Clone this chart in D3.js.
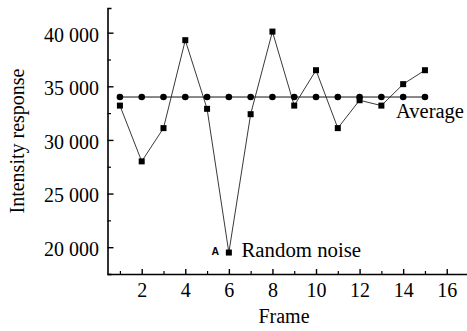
<!DOCTYPE html>
<html>
<head>
<meta charset="utf-8">
<script src="https://cdn.jsdelivr.net/npm/d3@7"></script>
<style>
  body { margin: 0; background: #fff; }
  text { fill: #000; }
</style>
</head>
<body>
<div id="chart"></div>
<script>
var frames = [1, 2, 3, 4, 5, 6, 7, 8, 9, 10, 11, 12, 13, 14, 15];
var noise = [33200, 28000, 31100, 39300, 32900, 19500, 32400, 40100, 33200, 36500, 31100, 33700, 33200, 35200, 36500];
var average = [34000, 34000, 34000, 34000, 34000, 34000, 34000, 34000, 34000, 34000, 34000, 34000, 34000, 34000, 34000];
var xTicks = [2, 4, 6, 8, 10, 12, 14, 16];
var yTicks = [20000, 25000, 30000, 35000, 40000];

var w = 467, h = 331;
var serif = "'Liberation Serif', 'Times New Roman', serif";

var svg = d3.select("#chart").append("svg").attr("width", w).attr("height", h);

var x = d3.scaleLinear().domain([0.43, 16.93]).range([107.5, 467]);
var y = d3.scaleLinear().domain([17500, 42300]).range([274, 8]);

function fmt(d) {
  return d3.format(",")(d).replace(",", " ");
}

// minor ticks
var xMinor = d3.range(1, 17, 2);
var yMinor = d3.range(17500, 42500, 5000);

svg.append("g")
  .attr("transform", "translate(0,274)")
  .call(d3.axisBottom(x).tickValues(xMinor).tickSize(-3).tickFormat(""))
  .call(function (g) { g.select(".domain").remove(); })
  .selectAll("line").attr("stroke-width", 1.2);

svg.append("g")
  .attr("transform", "translate(107.5,0)")
  .call(d3.axisLeft(y).tickValues(yMinor).tickSize(-3.5).tickFormat(""))
  .call(function (g) { g.select(".domain").remove(); })
  .selectAll("line").attr("stroke-width", 1.2);

// main axes
var xAxis = svg.append("g")
  .attr("transform", "translate(0,274)")
  .call(d3.axisBottom(x).tickValues(xTicks).tickSizeInner(-5).tickSizeOuter(0).tickPadding(9));
xAxis.select(".domain").attr("stroke-width", 1.6);
xAxis.selectAll("line").attr("stroke-width", 1.4);
xAxis.selectAll("text").style("font-family", serif).style("font-size", "20px");

var yAxis = svg.append("g")
  .attr("transform", "translate(107.5,0)")
  .call(d3.axisLeft(y).tickValues(yTicks).tickSizeInner(-6).tickSizeOuter(-4).tickPadding(8.5).tickFormat(fmt));
yAxis.select(".domain").attr("stroke-width", 1.6);
yAxis.selectAll("line").attr("stroke-width", 1.4);
yAxis.selectAll("text").style("font-family", serif).style("font-size", "20px").attr("dy", "0.42em");

// lines
var line = d3.line()
  .x(function (d, i) { return x(frames[i]); })
  .y(function (d) { return y(d); });

svg.append("path").datum(average)
  .attr("d", line).attr("fill", "none").attr("stroke", "#111").attr("stroke-width", 1);

svg.append("path").datum(noise)
  .attr("d", line).attr("fill", "none").attr("stroke", "#222").attr("stroke-width", 0.9);

svg.selectAll("circle")
  .data(average)
  .enter()
  .append("circle")
  .attr("cx", function (d, i) { return x(frames[i]); })
  .attr("cy", function (d) { return y(d); })
  .attr("r", 3.3)
  .attr("fill", "#000");

svg.selectAll("rect.sq")
  .data(noise)
  .enter()
  .append("rect")
  .attr("class", "sq")
  .attr("x", function (d, i) { return x(frames[i]) - 3; })
  .attr("y", function (d) { return y(d) - 3; })
  .attr("width", 6)
  .attr("height", 6)
  .attr("fill", "#000");

// labels
svg.append("text").attr("x", 396).attr("y", 118)
  .style("font-family", serif).style("font-size", "20.5px").text("Average");
svg.append("text").attr("x", 241.5).attr("y", 257)
  .style("font-family", serif).style("font-size", "20.8px").text("Random noise");
svg.append("text").attr("x", 211.5).attr("y", 254.5)
  .style("font-size", "10.5px").style("font-weight", "bold")
  .style("font-family", "'Liberation Sans', Arial, sans-serif").text("A");

svg.append("text").attr("x", 284).attr("y", 323).attr("text-anchor", "middle")
  .style("font-family", serif).style("font-size", "20px").text("Frame");
svg.append("text")
  .attr("transform", "translate(24,141) rotate(-90)")
  .attr("text-anchor", "middle")
  .style("font-family", serif).style("font-size", "20px")
  .text("Intensity response");
</script>
</body>
</html>
